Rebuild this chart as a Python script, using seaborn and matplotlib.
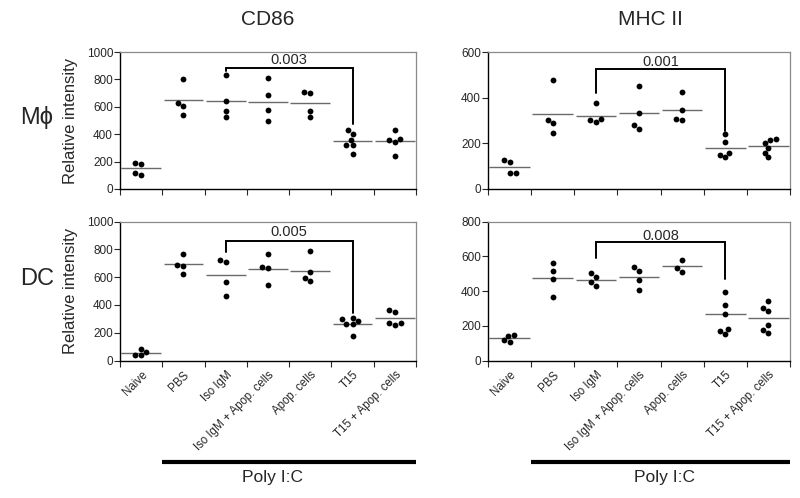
import numpy as np
import pandas as pd
import matplotlib
matplotlib.use("Agg")
import matplotlib.pyplot as plt
import matplotlib.transforms as mtransforms
import seaborn as sns

# --- DATA ---
groups = ["Naive", "PBS", "Iso IgM", "Iso IgM + Apop. cells",
          "Apop. cells", "T15", "T15 + Apop. cells"]

cd86_mphi = [[114, 180, 104, 192],
             [803, 631, 609, 539],
             [830, 646, 573, 529],
             [808, 684, 578, 495],
             [711, 701, 573, 529],
             [403, 434, 359, 320, 318, 252],
             [434, 359, 342, 364, 240]]
cd86_mphi_mean = [153, 648, 641, 638, 629, 354, 354]

mhc_mphi = [[71, 118, 68, 127],
            [477, 301, 287, 244],
            [376, 301, 293, 307],
            [452, 335, 280, 265],
            [424, 347, 307, 302],
            [243, 208, 149, 159, 139],
            [214, 220, 200, 180, 158, 138]]
mhc_mphi_mean = [98, 329, 321, 335, 344, 180, 188]

cd86_dc = [[43, 84, 38, 63],
           [766, 687, 682, 619],
           [723, 711, 566, 467],
           [766, 675, 663, 540],
           [785, 639, 593, 573],
           [308, 296, 282, 265, 260, 176],
           [364, 347, 270, 258, 270]]
cd86_dc_mean = [55, 694, 617, 660, 646, 265, 304]

mhc_dc = [[117, 140, 107, 145],
          [559, 513, 469, 364],
          [501, 478, 452, 430],
          [538, 517, 463, 408],
          [580, 532, 512],
          [396, 322, 268, 182, 168, 153],
          [345, 300, 283, 205, 176, 159]]
mhc_dc_mean = [128, 473, 461, 482, 542, 266, 243]

# bracket: (left foot, top, right foot, label y, label)
brackets = {
    "cd86_mphi": (862, 884, 471, 940, "0.003"),
    "mhc_mphi": (421, 527, 253, 557, "0.001"),
    "cd86_dc": (778, 858, 345, 923, "0.005"),
    "mhc_dc": (593, 683, 469, 718, "0.008"),
}

sns.set_style("ticks")
plt.rcParams["font.family"] = ["Liberation Sans", "DejaVu Sans"]


def to_frame(values):
    rows = [(g, v) for g, vals in zip(groups, values) for v in vals]
    return pd.DataFrame(rows, columns=["group", "value"])


def draw_panel(ax, values, means, ymax, key, bottom_row, left_col):
    df = to_frame(values)
    sns.swarmplot(data=df, x="group", y="value", order=groups,
                  color="black", size=4.2, ax=ax)
    xs = np.arange(len(groups))
    ax.hlines(means, xs - 0.47, xs + 0.47, color="#6a6a6a", lw=1.0)

    lo, top, ro, ty, label = brackets[key]
    ax.plot([2, 2, 5, 5], [lo, top, top, ro], color="black", lw=1.4,
            solid_joinstyle="miter")
    ax.text(3.5, ty, label, ha="center", va="center", fontsize=10.5)

    ax.set_xlim(-0.5, 6.5)
    ax.set_ylim(0, ymax)
    ax.set_yticks(np.arange(0, ymax + 1, 200))
    ax.set_xticks(xs)
    ax.set_xticks(np.arange(-0.5, 7, 1), minor=True)
    ax.tick_params(axis="x", which="major", length=0)
    ax.tick_params(axis="x", which="minor", length=4, width=0.8)
    ax.tick_params(axis="y", length=4, width=0.8, labelsize=8.5, pad=1)
    if bottom_row:
        ax.set_xticklabels(groups, rotation=45, ha="right",
                           rotation_mode="anchor", fontsize=8.3)
        ax.tick_params(axis="x", which="major", pad=6)
    else:
        ax.set_xticklabels([])
    ax.set_xlabel("")
    ax.set_ylabel("Relative intensity" if left_col else "", fontsize=12,
                  labelpad=6)
    for s in ["left", "bottom"]:
        ax.spines[s].set_color("black")
        ax.spines[s].set_linewidth(1.0)
    for s in ["top", "right"]:
        ax.spines[s].set_visible(True)
        ax.spines[s].set_color("#8a8a8a")
        ax.spines[s].set_linewidth(0.9)


fig = plt.figure(figsize=(8, 4.98), dpi=100)
ax1 = fig.add_axes([0.15, 0.6205, 0.37, 0.275])
ax2 = fig.add_axes([0.61, 0.6205, 0.3775, 0.275])
ax3 = fig.add_axes([0.15, 0.2761, 0.37, 0.279])
ax4 = fig.add_axes([0.61, 0.2761, 0.3775, 0.279])

draw_panel(ax1, cd86_mphi, cd86_mphi_mean, 1000, "cd86_mphi", False, True)
draw_panel(ax2, mhc_mphi, mhc_mphi_mean, 600, "mhc_mphi", False, False)
draw_panel(ax3, cd86_dc, cd86_dc_mean, 1000, "cd86_dc", True, True)
draw_panel(ax4, mhc_dc, mhc_dc_mean, 800, "mhc_dc", True, False)

# column / row headers
fig.text(0.335, 0.96, "CD86", ha="center", va="center", fontsize=15)
fig.text(0.8125, 0.96, "MHC II", ha="center", va="center", fontsize=15)
fig.text(0.046, 0.765, "M\u03d5", ha="center", va="center", fontsize=17)
fig.text(0.046, 0.44, "DC", ha="center", va="center", fontsize=17)

# Poly I:C bars under the treated groups
for ax, tx in [(ax3, 0.341), (ax4, 0.831)]:
    trans = mtransforms.blended_transform_factory(ax.transData, fig.transFigure)
    ax.plot([0.5, 6.5], [0.073, 0.073], color="black", lw=3,
            transform=trans, clip_on=False, solid_capstyle="butt")
    fig.text(tx, 0.042, "Poly I:C", ha="center", va="center", fontsize=12.5)

plt.savefig("out.png", dpi=100)
plt.close()
